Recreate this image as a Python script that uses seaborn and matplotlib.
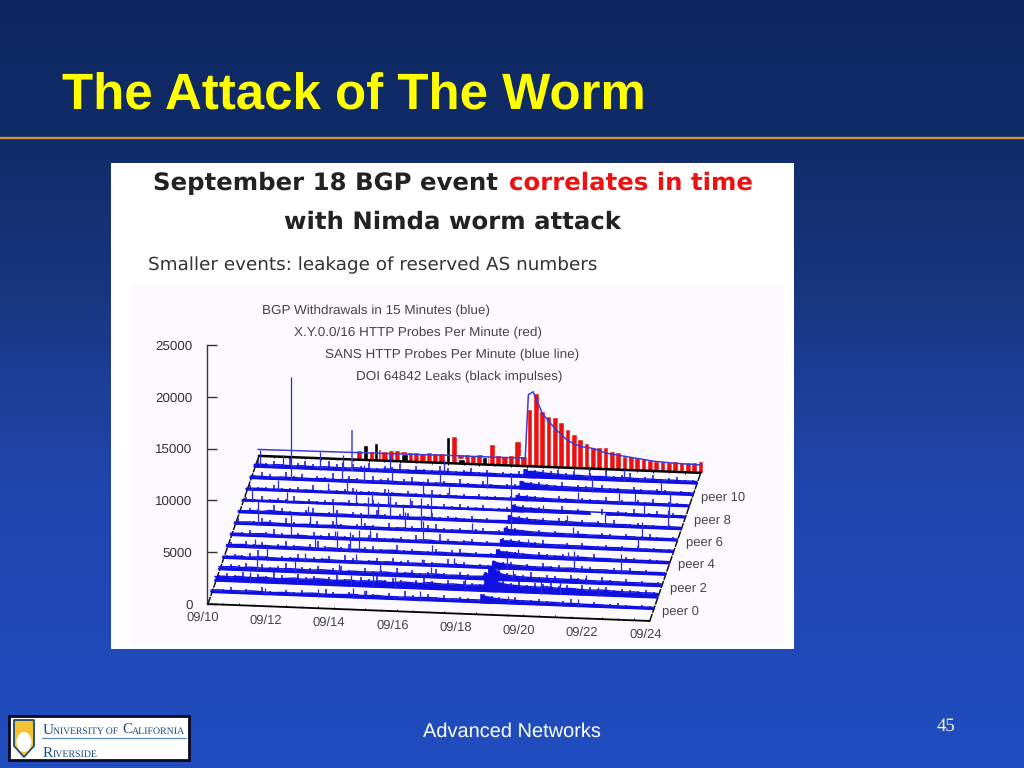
import numpy as np
import pandas as pd
import matplotlib
matplotlib.use("Agg")
import matplotlib.pyplot as plt
from matplotlib.colors import LinearSegmentedColormap
from matplotlib.patches import Rectangle, Polygon, Ellipse
import seaborn as sns

# ---------- data ----------
Y_TICKS = [0, 5000, 10000, 15000, 20000, 25000]
DATE_DAYS = [10, 12, 14, 16, 18, 20, 22, 24]
DATE_LABELS = ["09/10", "09/12", "09/14", "09/16", "09/18", "09/20", "09/22", "09/24"]
LEGEND_LINES = ["BGP Withdrawals in 15 Minutes (blue)", "X.Y.0.0/16 HTTP Probes Per Minute (red)",
                "SANS HTTP Probes Per Minute (blue line)", "DOI 64842 Leaks (black impulses)"]
PEER_LABELS = {0: "peer 0", 2: "peer 2", 4: "peer 4", 6: "peer 6", 8: "peer 8", 10: "peer 10"}

# per-peer level of withdrawals, 6-hour samples from 09/10 (four per day)
PEER_0 = [250,300,260,280, 270,320,290,250, 240,280,270,260, 300,330,280,270, 290,310,360,280,
          300,340,290,280, 270,310,280,320, 330,290,270,310, 260,280,280,620, 480,430,400,360,
          360,340,320,330, 300,280,290,260, 250,270,240,230, 220,230,210,220, 210]
PEER_1 = [450,520,480,550, 500,480,560,520, 480,530,600,520, 550,620,580,530, 560,620,540,600,
          580,650,520,570, 620,580,540,660, 600,550,620,580, 550,600,600,1300, 900,750,700,660,
          640,620,700,600, 580,620,560,530, 550,580,530,500, 480,520,460,480, 450]
PEER_2 = [300,330,360,310, 380,340,320,360, 330,380,350,330, 340,390,360,330, 310,370,340,350,
          360,400,340,330, 380,340,360,400, 370,330,360,340, 320,350,350,850, 600,500,450,420,
          400,410,370,390, 360,400,340,330, 320,340,310,300, 290,300,280,290, 270]
PEER_3 = [210,230,280,220, 260,300,240,230, 220,270,240,250, 230,290,250,230, 240,260,230,270,
          250,290,240,230, 260,250,230,270, 260,240,280,250, 230,240,240,550, 480,420,390,350,
          330,370,310,320, 350,300,290,280, 310,270,260,280, 250,260,240,250, 230]
PEER_4 = [240,270,310,250, 270,290,250,280, 240,300,270,250, 230,310,270,240, 250,280,240,260,
          270,310,250,240, 270,250,230,290, 260,240,270,250, 220,240,240,560, 500,430,390,360,
          350,330,340,310, 300,320,290,280, 290,260,250,270, 240,250,230,240, 220]
PEER_5 = [230,260,220,270, 310,260,240,230, 250,280,230,250, 240,270,250,230, 220,260,240,250,
          240,270,230,220, 290,310,240,230, 250,220,270,230, 220,230,230,520, 470,400,370,330,
          320,310,330,290, 300,280,270,260, 250,270,240,230, 240,230,220,220, 210]
PEER_6 = [220,250,280,230, 300,270,240,230, 220,260,240,230, 250,280,240,220, 230,270,240,230,
          220,260,230,240, 270,260,230,220, 250,230,240,220, 210,230,230,500, 450,390,350,330,
          310,320,300,290, 300,270,280,260, 250,240,260,230, 240,220,230,220, 210]
PEER_7 = [210,230,270,220, 350,280,250,230, 220,250,230,240, 230,260,240,220, 230,250,260,220,
          230,250,220,240, 260,230,220,250, 240,220,230,220, 210,230,230,540, 490,420,400,360,
          350,340,360,320, 310,330,290,300, 270,290,260,250, 260,240,240,250, 230]
PEER_8 = [170,200,180,190, 220,200,180,210, 190,210,180,190, 200,230,190,180, 190,210,200,180,
          180,200,190,210, 190,180,200,190, 180,190,200,180, 180,200,200,460, 410,370,340,320,
          310,300,290,310, 280,np.nan,270,260, 280,240,260,230, 250,240,220,240, 220]
PEER_9 = [180,200,220,190, 210,190,180,200, 220,190,180,210, 200,190,180,200, 210,190,180,220,
          190,210,180,190, 200,180,210,190, 180,200,190,180, 180,190,190,400, 350,310,290,270,
          260,280,250,240, 250,260,230,240, 220,240,210,230, 210,220,200,210, 190]
PEER_10 = [240,270,250,230, 280,250,260,240, 230,270,250,230, 240,280,260,240, 250,290,270,240,
           250,270,240,230, 280,250,260,240, 250,230,260,240, 230,250,250,580, 500,450,410,370,
           390,360,350,370, 340,320,330,300, 310,290,280,300, 260,270,250,260, 240]
PEER_11 = [280,320,270,340, 300,270,330,280, 260,310,290,270, 280,330,290,270, 280,340,290,300,
           270,310,280,290, 320,280,270,300, 280,270,290,260, 250,270,270,640, 570,500,470,410,
           400,420,380,370, 390,360,340,370, 330,310,320,300, 290,300,270,280, 260]
PEERS = [PEER_0, PEER_1, PEER_2, PEER_3, PEER_4, PEER_5, PEER_6, PEER_7, PEER_8, PEER_9, PEER_10, PEER_11]

# short impulses between the 6-hour samples, in hundreds of withdrawals (offset 3 hours)
FINE_0 = [3,4,6,3,5,3,7,4,3,5,4,6,3,4,8,5,3,6,4,7,5,3,6,4,9,5,3,7,4,6,3,5,4,3,9,7,6,5,7,4,5,6,4,3,5,7,4,3,5,3,4,5,3,3,4,3]
FINE_1 = [6,8,7,10,6,9,7,12,8,6,10,7,9,6,8,11,7,6,9,8,12,7,10,8,6,9,13,8,7,10,6,9,8,7,16,14,11,9,12,8,10,9,11,8,9,7,10,8,7,9,6,8,7,6,7,6]
FINE_2 = [4,6,5,8,4,7,5,6,9,4,6,5,7,4,6,8,5,4,7,5,6,4,8,5,7,4,6,9,5,4,7,5,4,6,13,11,8,7,6,9,5,7,6,4,8,5,6,4,7,5,4,6,4,5,3,4]
FINE_3 = [3,5,4,6,9,4,3,5,4,7,3,5,4,6,3,8,5,3,4,6,3,7,4,5,3,6,4,3,8,4,5,3,4,3,8,7,7,5,6,4,7,5,6,3,4,6,5,3,4,5,3,6,3,4,3,3]
FINE_4 = [5,3,7,4,6,3,5,8,4,3,6,9,5,3,4,7,3,5,6,4,3,8,4,5,3,4,6,3,5,7,3,4,3,4,8,7,6,5,4,7,5,4,6,3,5,4,7,3,4,3,5,4,3,4,3,3]
FINE_5 = [3,4,6,3,5,8,4,3,5,3,7,4,6,3,4,5,3,6,8,3,4,5,3,7,4,3,9,5,3,4,6,3,4,3,8,7,6,4,5,7,4,3,5,4,6,3,4,5,3,4,3,5,3,4,3,3]
FINE_6 = [6,3,4,7,5,3,8,4,3,5,6,3,7,4,3,5,6,4,3,7,3,4,5,3,6,8,4,3,5,3,4,6,3,4,8,7,5,4,6,3,5,4,3,6,4,3,5,4,3,5,3,4,6,3,3,4]
FINE_7 = [3,5,4,3,9,6,4,3,5,7,3,4,6,3,5,4,3,8,4,3,5,6,3,4,7,3,5,4,3,6,3,4,3,3,8,7,7,5,6,4,7,5,4,6,3,5,4,7,3,4,5,3,4,3,4,3]
FINE_8 = [4,3,6,3,5,4,7,3,5,3,4,6,3,5,4,3,6,3,4,5,3,7,3,4,3,5,3,6,4,3,5,3,3,4,8,7,5,6,4,3,7,4,5,3,0,6,3,5,4,7,3,4,6,3,5,3]
FINE_9 = [5,3,4,6,3,4,5,3,7,3,4,3,5,6,3,4,3,6,4,3,5,3,4,7,3,5,3,4,3,5,3,3,3,4,7,6,5,4,3,6,4,3,5,4,3,7,3,4,3,5,3,6,3,4,3,3]
FINE_10 = [4,7,5,3,8,4,6,3,5,4,9,3,6,5,3,7,4,6,3,5,8,3,6,4,5,3,7,4,3,6,4,3,4,5,8,7,7,6,5,8,4,6,5,3,7,4,5,3,6,4,3,5,4,3,4,3]
FINE_11 = [8,5,7,4,10,6,8,5,4,9,6,4,7,5,8,4,6,5,9,4,7,5,4,8,6,4,5,7,4,6,3,5,4,6,8,8,8,7,9,6,8,5,7,4,9,5,6,8,4,5,7,4,5,6,4,4]
FINE = [FINE_0, FINE_1, FINE_2, FINE_3, FINE_4, FINE_5, FINE_6, FINE_7, FINE_8, FINE_9, FINE_10, FINE_11]

# tallest impulses per peer: (day, height)
SPIKES_0 = [(11.7,650),(13.4,700),(14.5,950),(14.9,850),(16.6,900),(19.4,800),(21.6,700)]
SPIKES_1 = [(11.1,1000),(12.6,900),(14.3,1100),(15.0,1250),(15.7,1050),(17.9,1100),(20.3,1100),(20.9,1200),(22.1,900)]
SPIKES_2 = [(11.2,1450),(12.4,1150),(13.8,1050),(15.1,1200),(16.7,1050),(19.3,1100),(21.6,900)]
SPIKES_3 = [(11.4,1500),(12.6,800),(14.2,900),(16.3,700),(17.3,850),(19.0,1300),(21.1,2000),(22.6,1900)]
SPIKES_4 = [(10.9,900),(12.8,1300),(13.5,2000),(13.9,1900),(14.2,2100),(16.5,1000),(19.2,900),(20.8,800)]
SPIKES_5 = [(11.9,2400),(13.3,850),(14.4,1100),(16.1,2100),(19.4,800),(22.9,1300)]
SPIKES_6 = [(10.73,2300),(12.4,1100),(13.2,1700),(14.0,1600),(15.4,1800),(15.9,3200),(17.5,1000),(18.73,6000),(20.7,1000),(22.9,1700)]
SPIKES_7 = [(12.2,900),(13.0,1400),(14.1,2000),(14.4,1600),(14.8,2200),(15.2,1500),(16.1,2500),(20.4,1000),(21.6,1200),(23.6,1900)]
SPIKES_8 = [(10.3,1400),(11.4,1100),(13.6,1600),(14.1,1500),(14.6,1700),(15.3,1000),(19.5,800),(22.7,1100),(23.5,1500)]
SPIKES_9 = [(11.0,1100),(12.6,1000),(13.2,1500),(15.6,1500),(16.4,1000),(20.5,1000),(21.8,1100),(22.3,1200),(23.4,1300)]
SPIKES_10 = [(11.3,10000),(12.9,1900),(13.6,1700),(14.5,1500),(16.0,1400),(17.5,1100),(20.8,1400),(23.0,1300)]
SPIKES_11 = [(10.2,1700),(10.9,1300),(12.1,1700),(12.8,1500),(14.3,1700),(16.0,1400),(20.6,1200),(21.7,1200)]
SPIKES = [SPIKES_0, SPIKES_1, SPIKES_2, SPIKES_3, SPIKES_4, SPIKES_5, SPIKES_6, SPIKES_7, SPIKES_8, SPIKES_9, SPIKES_10, SPIKES_11]
TALL_SPIKE_DAY = 13.1
TALL_SPIKE_VALUE = 4000

# burst right after the event, height per peer at successive instants
ONSET_DAYS = [18.5, 18.56, 18.62, 18.68, 18.74, 18.8, 18.9]
ONSET_0 = [900,900,800,750,650,600,500]
ONSET_1 = [1900,1950,1800,1700,1600,1400,1200]
ONSET_2 = [1300,1350,1300,1200,1100,1000,800]
ONSET_3 = [800,850,750,700,650,600,500]
ONSET_4 = [800,850,750,650,600,550,500]
ONSET_5 = [700,750,650,600,550,500,450]
ONSET_6 = [700,750,650,600,550,500,450]
ONSET_7 = [800,850,750,650,600,550,500]
ONSET_8 = [700,750,650,600,550,500,450]
ONSET_9 = [550,600,550,500,450,400,350]
ONSET_10 = [800,850,750,700,650,600,500]
ONSET_11 = [850,900,800,700,650,600,550]
ONSET = [ONSET_0, ONSET_1, ONSET_2, ONSET_3, ONSET_4, ONSET_5, ONSET_6, ONSET_7, ONSET_8, ONSET_9, ONSET_10, ONSET_11]

# X.Y.0.0/16 probes (red), one bar per 0.2 day from 13.1
RED_DAYS_START = 13.1
RED_VALUES = [900,1000,850,1050,950,1000,1100,1000,900,950,900,1000,950,900,950,2600,900,950,900,950,
              850,2000,950,900,1000,2400,950,5500,7100,5400,4900,4850,4400,3750,3300,2800,2400,2050,2100,2150,
              1800,1700,1350,1400,1300,1250,1050,1000,950,950,1000,950,1000,1050,1130]
# SANS probes (blue line)
SANS_DAYS = [10.0,11.0,12.0,13.0,14.0,15.0,16.0,17.0,18.0,18.45,18.55,18.7,19.0,19.4,19.8,20.2,20.6,21.0,21.5,22.0,22.5,23.0,23.5,24.0]
SANS_VALUES = [620,640,660,680,700,720,750,740,760,780,6900,7200,5100,3700,2600,2100,1950,1550,1350,1150,950,850,800,750]
# DOI leaks (black impulses)
LEAK_DAYS = [13.41, 13.72, 14.62, 16.0, 16.44, 17.16]
LEAK_VALUES = [1400, 1700, 700, 2500, 480, 770]
LEAK_WIDTHS = [0.15, 0.13, 0.22, 0.13, 0.2, 0.18]

# ---------- geometry of the pseudo 3-D view (counts / days) ----------
TILT = 117.0      # counts lost per day along the axis
ROW_DY = 1100.0   # counts between rows
ROW_DX = 0.124    # days between rows
BACK = 12         # index of back wall


def base(day, i):
    return (i + 1) * ROW_DY - TILT * (np.asarray(day, dtype=float) - 10)


sns.set_theme(style="white")
plt.rcParams["font.family"] = ["Liberation Sans", "DejaVu Sans"]
plt.rcParams["text.hinting"] = "no_hinting"
fig = plt.figure(figsize=(10.24, 7.68), dpi=100)

# ---------- slide ----------
bg = fig.add_axes([0, 0, 1, 1], zorder=0)
bg.set_xlim(0, 1024); bg.set_ylim(768, 0); bg.axis("off")
stops = [(0, "#0e2660"), (138, "#102c68"), (294, "#183680"), (392, "#1c3f98"), (490, "#1f46ae"), (637, "#2049b8"), (768, "#214dbf")]
cmap = LinearSegmentedColormap.from_list("s", [(p / 768, c) for p, c in stops], N=1024)
bg.imshow(np.linspace(0, 1, 768)[:, None], extent=[0, 1024, 768, 0], aspect="auto", cmap=cmap, zorder=0)
bg.set_xlim(0, 1024); bg.set_ylim(768, 0)
bg.plot([0, 1024], [138, 138], color="#d8923c", lw=1.7, zorder=1)
bg.text(62, 110, "The Attack of The Worm", color="#ffff00", fontsize=36.7, fontweight="bold", va="baseline", ha="left")
bg.add_patch(Rectangle((111, 163), 683, 486, fc="white", ec="none", zorder=1))
bg.add_patch(Rectangle((132, 285), 652, 360, fc="#fdfaff", ec="none", zorder=1))
hf = ["DejaVu Sans"]
bg.text(153, 190, "September 18 BGP event", color="#222222", fontsize=17.6, fontweight="bold", family=hf, zorder=2)
bg.text(509, 190, "correlates in time", color="#ee1111", fontsize=17.6, fontweight="bold", family=hf, zorder=2)
bg.text(284, 229, "with Nimda worm attack", color="#222222", fontsize=17.6, fontweight="bold", family=hf, zorder=2)
bg.text(148, 270, "Smaller events: leakage of reserved AS numbers", color="#333333", fontsize=13.2, family=hf, zorder=2)
for s, x, y in zip(LEGEND_LINES, [262, 294, 325, 356], [311, 333, 355, 377]):
    bg.text(x, y, s, color="#444444", fontsize=9.7, va="center", ha="left", zorder=2)

# logo
bg.add_patch(Rectangle((9, 716), 180, 44, fc="white", ec="#0a0a20", lw=2, zorder=2))
bg.add_patch(Polygon([(14, 720), (34, 720), (34, 746), (24, 757), (14, 746)], closed=True, fc="#f2c431", ec="#1a4a80", lw=1, zorder=3))
bg.add_patch(Ellipse((24, 742), 15, 20, fc="white", ec="none", zorder=4))
bg.add_patch(Polygon([(14, 720), (34, 720), (34, 746), (24, 757), (14, 746)], closed=True, fc="none", ec="#1a4a80", lw=1, zorder=5))
bg.plot([42, 186], [738, 738], color="#5d8db5", lw=0.9, zorder=3)
sf = ["Liberation Serif"]
bg.text(43, 734, "U", color="#1a4a80", fontsize=11, family=sf, zorder=3)
bg.text(53, 734, "NIVERSITY OF", color="#1a4a80", fontsize=6.9, family=sf, zorder=3)
bg.text(122, 734, "C", color="#1a4a80", fontsize=11, family=sf, zorder=3)
bg.text(132, 734, "ALIFORNIA", color="#1a4a80", fontsize=7.1, family=sf, zorder=3)
bg.text(43, 757, "R", color="#1a4a80", fontsize=11, family=sf, zorder=3)
bg.text(53, 757, "IVERSIDE", color="#1a4a80", fontsize=7.1, family=sf, zorder=3)
bg.text(512, 732, "Advanced Networks", color="white", fontsize=14.4, ha="center", va="center")
bg.text(946, 726, "45", color="#f5f2d0", fontsize=13.5, ha="center", va="center", family=sf)

# ---------- chart axes: 207..713 px, 345..604 px ----------
ax = fig.add_axes([207 / 1024, 1 - 604 / 768, 506 / 1024, 259 / 768], zorder=1)
ax.patch.set_alpha(0)
ax.set_xlim(10, 26)
ax.set_ylim(0, 25000)

rows = []
for i, values in enumerate(PEERS):
    v = np.array(values, dtype=float)
    d = 10 + 0.25 * np.arange(len(v))
    rows.append(pd.DataFrame({"peer": i, "x": d + (i + 1) * ROW_DX, "y": base(d, i) + v, "b": base(d, i)}))
rows_df = pd.concat(rows, ignore_index=True)

BLUE = "#1010e0"
# red bars on the back wall
red_days = RED_DAYS_START + 0.2 * np.arange(len(RED_VALUES))
ax.bar(red_days + (BACK + 1) * ROW_DX, RED_VALUES, width=np.where(red_days < 18.4, 0.205, 0.18),
       bottom=base(red_days, BACK), color="#ee1010", align="edge", clip_on=False, zorder=3)
# black leak impulses
leak = np.array(LEAK_DAYS)
ax.bar(leak + (BACK + 1) * ROW_DX, LEAK_VALUES, width=LEAK_WIDTHS, bottom=base(leak, BACK), color="black", clip_on=False, zorder=4)

# wall and floor lines
fx = np.array([10.03, 24.0])
for i, lw in ((-1, 1.3), (BACK, 1.8)):
    off = (i + 1) * ROW_DX
    ax.plot(fx + off, base(fx, i), color="black", lw=lw, clip_on=False, zorder=5)
for d0 in fx:
    ax.plot([d0, d0 + (BACK + 1) * ROW_DX], [base(d0, -1), base(d0, BACK)], color="#111111", lw=1.1, ls=(0, (5, 0.7)), clip_on=False, zorder=5)
tick_days = np.arange(10.5, 24, 0.5)
for i, h in ((-1, 180), (BACK, -150)):
    off = (i + 1) * ROW_DX
    ax.vlines(tick_days + off, base(tick_days, i), base(tick_days, i) + h, color="black", lw=0.7, clip_on=False, zorder=5)

# peers, drawn back to front
for i in range(len(PEERS) - 1, -1, -1):
    g = rows_df[rows_df.peer == i]
    ax.fill_between(g.x, g.b, g.y, where=g.y.notna().to_numpy(), color=BLUE, lw=0, clip_on=False, zorder=6)
    sns.lineplot(data=g, x="x", y="y", ax=ax, color=BLUE, lw=1.0, estimator=None, clip_on=False, zorder=6, legend=False)
    ax.plot(g.x, g.b.where(g.y.notna()) + 90, color=BLUE, lw=1.4, clip_on=False, zorder=6)
    fine_d = 10.125 + 0.25 * np.arange(len(FINE[i]))
    fine_h = np.array(FINE[i], dtype=float) * 100
    ax.vlines(fine_d + (i + 1) * ROW_DX, base(fine_d, i), base(fine_d, i) + fine_h, color=BLUE, lw=1.1, clip_on=False, zorder=6)
    xs = np.array([d for d, _ in SPIKES[i]])
    hs = np.array([h for _, h in SPIKES[i]])
    ax.vlines(xs + (i + 1) * ROW_DX, base(xs, i), base(xs, i) + hs, color="#2a2ae0", lw=0.9, clip_on=False, zorder=6)
    od = np.array(ONSET_DAYS)
    ax.fill_between(od + (i + 1) * ROW_DX, base(od, i), base(od, i) + np.array(ONSET[i]), color=BLUE, lw=0, clip_on=False, zorder=6)

ax.vlines(TALL_SPIKE_DAY + BACK * ROW_DX, base(TALL_SPIKE_DAY, 11), base(TALL_SPIKE_DAY, 11) + TALL_SPIKE_VALUE,
          color="#4a4ad2", lw=1.1, clip_on=False, zorder=6)

# SANS line
sd = np.array(SANS_DAYS)
sans_df = pd.DataFrame({"x": sd + (BACK + 1) * ROW_DX, "y": base(sd, BACK) + np.array(SANS_VALUES)})
sns.lineplot(data=sans_df, x="x", y="y", ax=ax, color="#3b3bd8", lw=1.1, estimator=None, sort=False, clip_on=False, zorder=7)

# labels
for d, s in zip(DATE_DAYS, DATE_LABELS):
    ax.text(d - 0.14, base(d, -1) - 1350, s, ha="center", va="center", fontsize=9.4, color="#444444", clip_on=False)
for i, s in PEER_LABELS.items():
    ax.text(24 + (i + 1) * ROW_DX + 0.27, base(24, i) - 100, s, ha="left", va="center", fontsize=9.4, color="#444444", clip_on=False)

ax.set_xlabel(""); ax.set_ylabel("")
ax.set_xticks([])
ax.set_yticks(Y_TICKS)
ax.set_yticklabels([str(v) for v in Y_TICKS], fontsize=9.6, color="#333333")
ax.tick_params(axis="y", direction="in", length=7, width=1, color="#333333", pad=10.5, left=True)
for s in ("top", "right", "bottom"):
    ax.spines[s].set_visible(False)
ax.spines["left"].set_color("#333333")
ax.spines["left"].set_linewidth(1)
ax.set_xlim(10, 26)
ax.set_ylim(0, 25000)
fig.savefig("out.png", dpi=100)
